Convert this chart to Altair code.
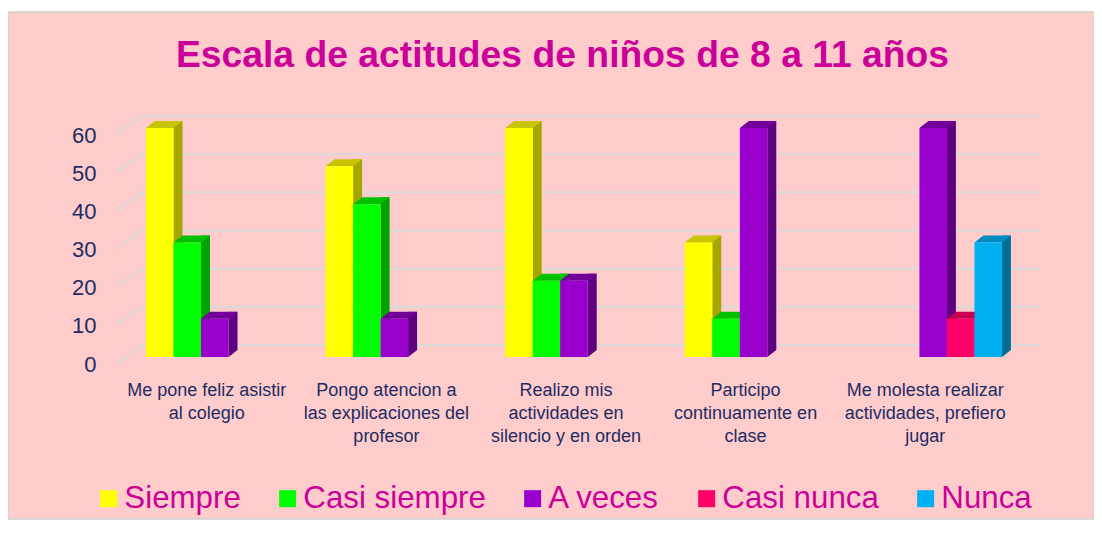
import altair as alt
import pandas as pd

# ---------------- data ----------------
categories = [
    "Me pone feliz asistir|al colegio",
    "Pongo atencion a|las explicaciones del|profesor",
    "Realizo mis|actividades en|silencio y en orden",
    "Participo|continuamente en|clase",
    "Me molesta realizar|actividades, prefiero|jugar",
]
series = ["Siempre", "Casi siempre", "A veces", "Casi nunca", "Nunca"]
siempre = [60, 50, 60, 30, 0]
casi_siempre = [30, 40, 20, 10, 0]
a_veces = [10, 10, 20, 60, 60]
casi_nunca = [0, 0, 0, 0, 10]
nunca = [0, 0, 0, 0, 30]
y_ticks = [0, 10, 20, 30, 40, 50, 60]
title_text = "Escala de actitudes de niños de 8 a 11 años"

front_colors = ["#FFFF00", "#00FF00", "#9900CC", "#FF0066", "#00B0F0"]
side_colors = ["#A6A600", "#00A300", "#5E0080", "#A80045", "#006E99"]
top_colors = ["#C9C400", "#00C000", "#720099", "#C8004F", "#008DC4"]

NAVY = "#1B2C63"
MAGENTA = "#CC0099"
GRID = "#D9D9D9"

values_by_series = [siempre, casi_siempre, a_veces, casi_nunca, nunca]
rows = []
for s_i, s in enumerate(series):
    for c_i, c in enumerate(categories):
        rows.append({
            "categoria": c,
            "serie": s,
            "valor": values_by_series[s_i][c_i],
            "side": side_colors[s_i],
            "top": top_colors[s_i],
        })
df = pd.DataFrame(rows)
df_nz = df[df["valor"] > 0]
grid_df = pd.DataFrame({"v": y_ticks})
one = pd.DataFrame({"a": [0]})

# ---------------- shared encodings ----------------
PLOT_W, PLOT_H = 898, 229

x_enc = alt.X(
    "categoria:N",
    sort=categories,
    scale=alt.Scale(domain=categories, paddingInner=0.234, paddingOuter=0.117, align=0.69),
    axis=alt.Axis(
        labelExpr="split(datum.label, '|')",
        labelFont="Liberation Sans",
        labelFontSize=18,
        labelColor=NAVY,
        labelPadding=24,
        labelLineHeight=23,
        labelOffset=-8,
        labelLimit=400,
        labelAngle=0,
        domain=False,
        ticks=False,
        grid=False,
        title=None,
        zindex=2,
    ),
)
y_scale = alt.Scale(domain=[0, 60], nice=False, zero=True)
y_axis = alt.Axis(
    values=y_ticks,
    grid=False,
    domain=False,
    ticks=False,
    tickSize=0,
    labelPadding=21,
    labelFont="Liberation Sans",
    labelFontSize=22,
    labelColor=NAVY,
    labelOffset=7,
    title=None,
    zindex=2,
)

# ---------------- layers ----------------
frame = alt.Chart(one).mark_rect(fill="#FFCCCC", stroke="#D0D0D0", strokeWidth=1.5).encode(
    x=alt.value(-109), x2=alt.value(977), y=alt.value(-116), y2=alt.value(391)
)

title = alt.Chart(one).mark_text(
    text=title_text,
    font="Liberation Sans",
    fontSize=37.3,
    fontWeight="bold",
    color=MAGENTA,
    align="center",
    baseline="alphabetic",
).encode(x=alt.value(445.5), y=alt.value(-61))

grid_back = alt.Chart(grid_df).mark_rule(color=GRID, strokeWidth=2, yOffset=-12).encode(
    y=alt.Y("v:Q", scale=y_scale, axis=y_axis),
    x=alt.value(25),
    x2=alt.value(923),
)
grid_diag = alt.Chart(grid_df).mark_rule(color=GRID, strokeWidth=2, yOffset=6, y2Offset=-12).encode(
    y=alt.Y("v:Q", scale=y_scale, axis=y_axis),
    y2="v:Q",
    x=alt.value(0),
    x2=alt.value(25),
)

# side faces: 9px-wide bands that start at the right edge of each front face
sides = alt.Chart(df_nz).mark_bar(yOffset=-7, y2Offset=-7).encode(
    x=x_enc,
    xOffset=alt.XOffset(
        "serie:N",
        sort=series,
        scale=alt.Scale(type="band", domain=series, range=[27.5, 146.5], paddingInner=0.6727, paddingOuter=0),
    ),
    y=alt.Y("valor:Q", scale=y_scale, axis=y_axis),
    fill=alt.Fill("side:N", scale=None, legend=None),
)

off_enc = alt.XOffset(
    "serie:N", sort=series, scale=alt.Scale(type="band", domain=series, paddingInner=0, paddingOuter=0)
)

side_foot = alt.Chart(df_nz).mark_point(
    shape="M1,-0.5091L1,0L1.6545,-0.5091Z", size=756.25, filled=True, opacity=1, strokeWidth=0
).encode(
    x=x_enc,
    xOffset=off_enc,
    y=alt.Y("valor:Q", scale=y_scale, axis=y_axis),
    fill=alt.Fill("side:N", scale=None, legend=None),
).transform_calculate(valor="0")

tops = alt.Chart(df_nz).mark_point(
    shape="M-1,0L1,0L1.6545,-0.5091L-0.3455,-0.5091Z", size=756.25, filled=True, opacity=1, strokeWidth=0
).encode(
    x=x_enc,
    xOffset=off_enc,
    y=alt.Y("valor:Q", scale=y_scale, axis=y_axis),
    fill=alt.Fill("top:N", scale=None, legend=None),
)

fronts = alt.Chart(df_nz).mark_bar().encode(
    x=x_enc,
    xOffset=off_enc,
    y=alt.Y("valor:Q", scale=y_scale, axis=y_axis),
    color=alt.Color(
        "serie:N",
        sort=series,
        scale=alt.Scale(domain=series, range=front_colors),
        legend=alt.Legend(
            title=None,
            orient="none",
            legendX=-24,
            legendY=355,
            direction="horizontal",
            columns=5,
            symbolType="square",
            symbolSize=289,
            symbolStrokeWidth=0,
            labelFont="Liberation Sans",
            labelFontSize=31.3,
            labelColor=MAGENTA,
            labelOffset=0,
            columnPadding=31,
            labelLimit=400,
            padding=0,
        ),
    ),
)

chart = (
    alt.layer(frame, title, grid_back, grid_diag, sides, side_foot, tops, fronts)
    .resolve_scale(xOffset="independent")
    .properties(
        width=PLOT_W,
        height=PLOT_H,
        padding={"left": 109, "top": 120, "right": 79, "bottom": 163},
        autosize=alt.AutoSizeParams(type="none"),
        background="white",
    )
    .configure_view(stroke=None)
)

chart.save("out.html", embed_options={"renderer": "svg", "actions": False})
